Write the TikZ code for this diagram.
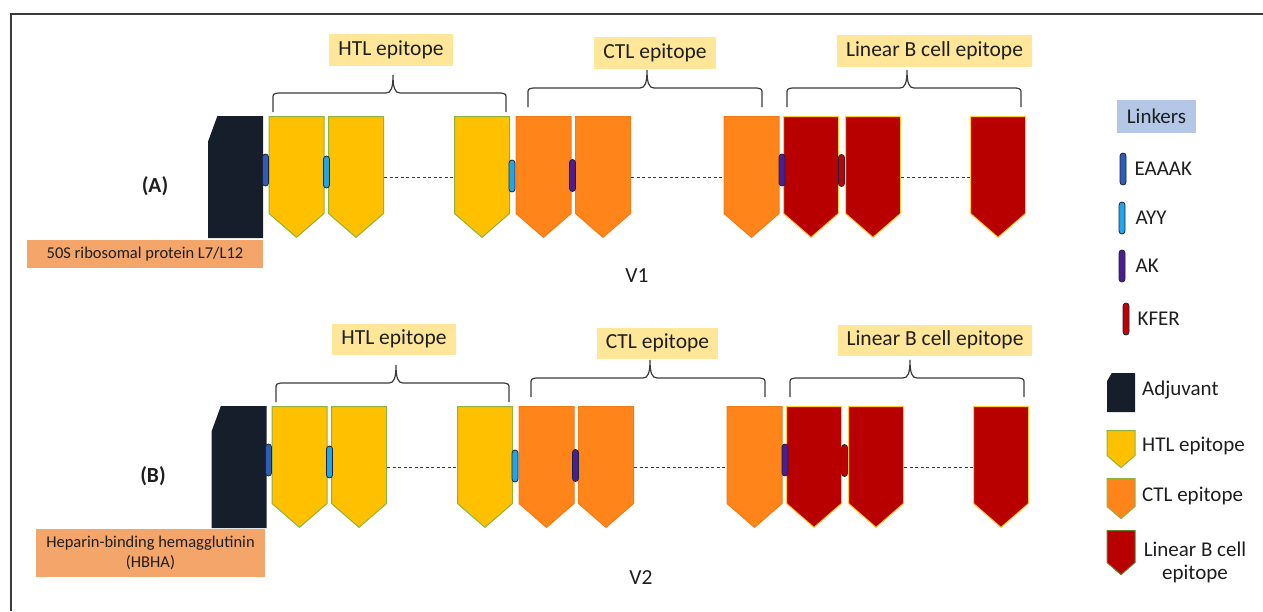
\documentclass[tikz,border=0pt]{standalone}
\usepackage{fontspec}
\setmainfont{Carlito}
\usetikzlibrary{shapes.symbols, calc, positioning}
\definecolor{htlyellow}{HTML}{FFC000}
\definecolor{htlgreen}{HTML}{8CB43C}
\definecolor{ctlorange}{HTML}{FF851B}
\definecolor{ctlline}{HTML}{F07C18}
\definecolor{bred}{HTML}{B80000}
\definecolor{bline}{HTML}{FFCC33}
\definecolor{adjnavy}{HTML}{161E2B}
\definecolor{eaaakblue}{HTML}{2F5BB9}
\definecolor{ayyblue}{HTML}{21A5EA}
\definecolor{akpurple}{HTML}{4B1D91}
\definecolor{kferred}{HTML}{C00000}
\definecolor{linkline}{HTML}{1C2540}
\definecolor{tagyellow}{HTML}{FFE699}
\definecolor{protorange}{HTML}{F4A56A}
\definecolor{legendblue}{HTML}{B4C7E7}
\definecolor{textdark}{HTML}{1E1E1E}
\definecolor{bracegray}{HTML}{3A3A3A}

\begin{document}
\begin{tikzpicture}[x=1pt, y=-1pt,
  epi/.style={signal, signal to=south, signal from=nowhere, signal pointer angle=98, minimum width=55pt, minimum height=97pt, inner sep=0pt, line width=1pt, anchor=north},
  htl/.style={epi, fill=htlyellow, draw=htlgreen},
  ctl/.style={epi, fill=ctlorange, draw=ctlline},
  lbc/.style={epi, fill=bred, draw=bline},
  adj/.style={rectangle, minimum width=55pt, minimum height=122pt, inner sep=0pt,
    path picture={\fill[adjnavy] ($(path picture bounding box.north west)!0.17!(path picture bounding box.north east)$) -- (path picture bounding box.north east) -- (path picture bounding box.south east) -- (path picture bounding box.south west) -- ($(path picture bounding box.north west)!0.21!(path picture bounding box.south west)$) -- cycle;}},
  lnk/.style={rectangle, rounded corners=3pt, draw=linkline, line width=0.8pt, minimum width=6pt, minimum height=32pt, inner sep=0pt},
  tag/.style={fill=tagyellow, inner xsep=9pt, inner ysep=6pt, text height=15pt, text depth=4.5pt, font=\fontsize{21.5}{25}\selectfont, text=textdark},
  prot/.style={fill=protorange, font=\fontsize{16.5}{20}\selectfont, text=textdark, align=center, inner sep=0pt},
  brc/.style={draw=bracegray, line width=1.2pt},
  dashlink/.style={draw=bracegray, line width=1pt, dash pattern=on 3pt off 2.5pt},
  lbl/.style={font=\fontsize{21.5}{25}\selectfont, text=textdark},
  lgtext/.style={font=\fontsize{21}{25}\selectfont, text=textdark, inner sep=0pt},
]
\useasboundingbox (0,0) rectangle (1263,611);
\draw[line width=1.5pt, draw=bracegray] (11,611) -- (11,14) -- (1263,14);

% (A) V1
\node[adj] (adja) at (235.5,177) {};
\node[prot, minimum width=236pt, minimum height=28pt] (prota) at (145,254) {50S ribosomal protein L7/L12};
\node[font=\bfseries\fontsize{21.5}{25}\selectfont, text=textdark] (rowa) at (155,186) {(A)};

\node[htl] (h1a) at (296.5,116) {};
\node[htl] (h2a) at (356,116) {};
\node[htl] (h3a) at (482,116) {};
\node[ctl] (c1a) at (543.5,116) {};
\node[ctl] (c2a) at (603,116) {};
\node[ctl] (c3a) at (751.5,116) {};
\node[lbc] (b1a) at (811,116) {};
\node[lbc] (b2a) at (873,116) {};
\node[lbc] (b3a) at (998,116) {};

\node[lnk, fill=eaaakblue] (l1a) at (265.5,170) {};
\node[lnk, fill=ayyblue] (l2a) at (326.5,172) {};
\node[lnk, fill=ayyblue] (l3a) at (512,176) {};
\node[lnk, fill=akpurple] (l4a) at (572.5,175.5) {};
\node[lnk, fill=akpurple] (l5a) at (782,170) {};
\node[lnk, fill=kferred] (l6a) at (841.5,170.5) {};

\draw[dashlink] ([yshift=-12pt]h2a.east) -- ([yshift=-12pt]h3a.west);
\draw[dashlink] ([yshift=-12pt]c2a.east) -- ([yshift=-12pt]c3a.west);
\draw[dashlink] ([yshift=-12pt]b2a.east) -- ([yshift=-12pt]b3a.west);

\node[tag] (htla) at (391,50) {HTL epitope};
\node[tag] (ctla) at (655,53) {CTL epitope};
\node[tag] (lbca) at (934.5,51) {Linear B cell epitope};
\draw[brc] (273,112) -- (273,99) .. controls (273,94) .. (278,93) -- (386,93) .. controls (391,93) and (393,88) .. (393,75) .. controls (393,88) and (395,93) .. (400,93) -- (501,93) .. controls (506,94) .. (506,99) -- (506,112);
\draw[brc] (528,107) -- (528,94) .. controls (528,89) .. (533,88) -- (640,88) .. controls (645,88) and (647,83) .. (647,70) .. controls (647,83) and (649,88) .. (654,88) -- (757,88) .. controls (762,89) .. (762,94) -- (762,107);
\draw[brc] (787,107) -- (787,94) .. controls (787,89) .. (792,88) -- (900,88) .. controls (905,88) and (907,83) .. (907,70) .. controls (907,83) and (909,88) .. (914,88) -- (1016,88) .. controls (1021,89) .. (1021,94) -- (1021,107);

\node[lbl] (v1) at (637,276) {V1};

% (B) V2
\node[adj] (adjb) at (239,467) {};
\node[prot, minimum width=229pt, minimum height=48pt] (protb) at (150.5,553) {Heparin-binding hemagglutinin\\(HBHA)};
\node[font=\bfseries\fontsize{21.5}{25}\selectfont, text=textdark] (rowb) at (153,476) {(B)};

\node[htl] (h1b) at (299.5,406) {};
\node[htl] (h2b) at (359,406) {};
\node[htl] (h3b) at (485,406) {};
\node[ctl] (c1b) at (546.5,406) {};
\node[ctl] (c2b) at (606,406) {};
\node[ctl] (c3b) at (754.5,406) {};
\node[lbc] (b1b) at (814,406) {};
\node[lbc] (b2b) at (876,406) {};
\node[lbc] (b3b) at (1001,406) {};

\node[lnk, fill=eaaakblue] (l1b) at (268.5,460) {};
\node[lnk, fill=ayyblue] (l2b) at (329.5,462) {};
\node[lnk, fill=ayyblue] (l3b) at (515,466) {};
\node[lnk, fill=akpurple] (l4b) at (575.5,465.5) {};
\node[lnk, fill=akpurple] (l5b) at (785,460) {};
\node[lnk, fill=kferred] (l6b) at (844.5,460.5) {};

\draw[dashlink] ([yshift=-12pt]h2b.east) -- ([yshift=-12pt]h3b.west);
\draw[dashlink] ([yshift=-12pt]c2b.east) -- ([yshift=-12pt]c3b.west);
\draw[dashlink] ([yshift=-12pt]b2b.east) -- ([yshift=-12pt]b3b.west);

\node[tag] (htlb) at (394,339.5) {HTL epitope};
\node[tag] (ctlb) at (657.5,343.5) {CTL epitope};
\node[tag] (lbcb) at (935,340.5) {Linear B cell epitope};
\draw[brc] (276,402) -- (276,389) .. controls (276,384) .. (281,383) -- (389,383) .. controls (394,383) and (396,378) .. (396,365) .. controls (396,378) and (398,383) .. (403,383) -- (504,383) .. controls (509,384) .. (509,389) -- (509,402);
\draw[brc] (531,397) -- (531,384) .. controls (531,379) .. (536,378) -- (643,378) .. controls (648,378) and (650,373) .. (650,360) .. controls (650,373) and (652,378) .. (657,378) -- (760,378) .. controls (765,379) .. (765,384) -- (765,397);
\draw[brc] (790,397) -- (790,384) .. controls (790,379) .. (795,378) -- (903,378) .. controls (908,378) and (910,373) .. (910,360) .. controls (910,373) and (912,378) .. (917,378) -- (1019,378) .. controls (1024,379) .. (1024,384) -- (1024,397);

\node[lbl] (v2) at (641,578) {V2};

% legend
\node[fill=legendblue, font=\fontsize{21}{25}\selectfont, text=textdark, minimum width=79pt, minimum height=33pt, inner sep=0pt] (lkhead) at (1156.5,116.5) {Linkers};
\node[lnk, fill=eaaakblue] (k1) at (1123,169) {};
\node[lgtext, right=8pt of k1] (k1t) {EAAAK};
\node[lnk, fill=ayyblue] (k2) at (1122,218) {};
\node[lgtext, right=10pt of k2] (k2t) {AYY};
\node[lnk, fill=akpurple] (k3) at (1122,266) {};
\node[lgtext, right=10pt of k3] (k3t) {AK};
\node[lnk, fill=kferred] (k4) at (1126,319) {};
\node[lgtext, right=8pt of k4] (k4t) {KFER};

\node[adj, minimum width=28pt, minimum height=39pt] (kadj) at (1121,392.5) {};
\node[lgtext, anchor=west] (kadjt) at (1142,390) {Adjuvant};
\node[htl, minimum width=28pt, minimum height=25pt] (khtl) at (1121,430) {};
\node[lgtext, anchor=west] (khtlt) at (1142,446) {HTL epitope};
\node[ctl, draw=htlgreen, minimum width=28pt, minimum height=28pt] (kctl) at (1121,478) {};
\node[lgtext, anchor=west] (kctlt) at (1142,496) {CTL epitope};
\node[lbc, draw=htlgreen!70!black, minimum width=28pt, minimum height=32pt] (klbc) at (1121,530) {};
\node[lgtext, align=center, font=\fontsize{21}{23}\selectfont] (klbct) at (1195,562) {Linear B cell\\epitope};
\end{tikzpicture}
\end{document}
